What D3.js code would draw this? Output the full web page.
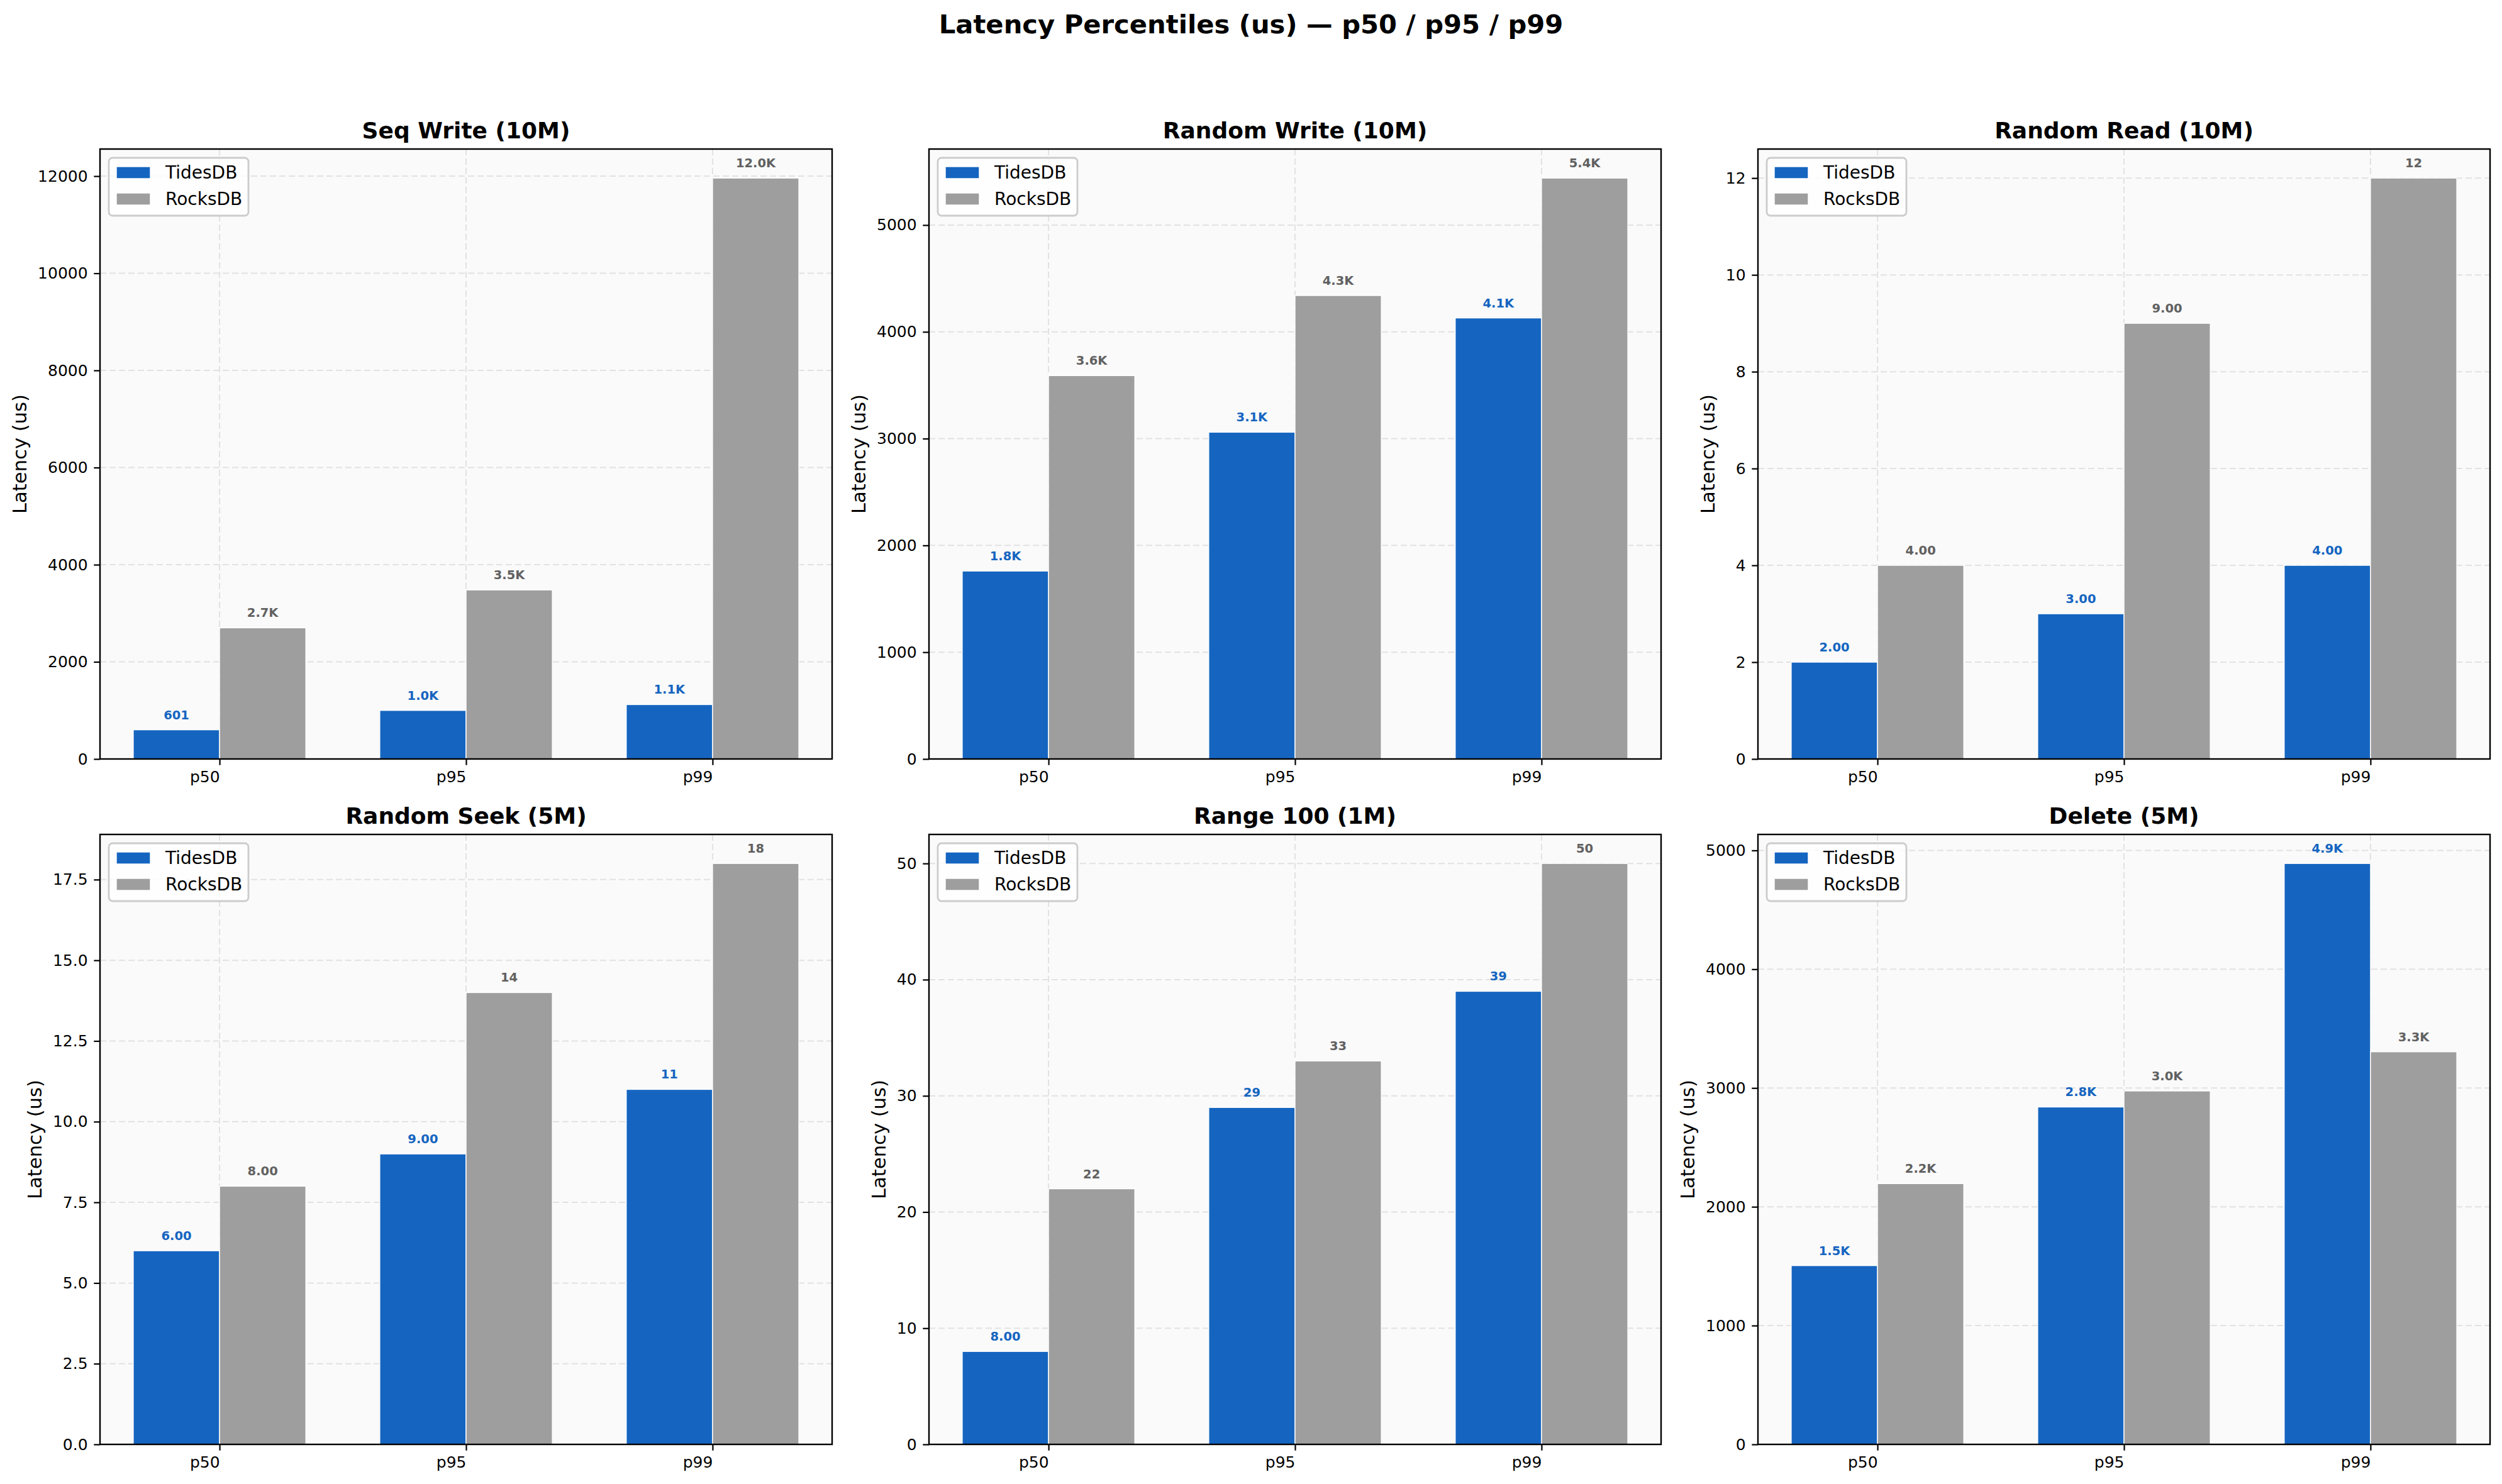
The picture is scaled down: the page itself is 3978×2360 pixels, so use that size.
<!DOCTYPE html>
<html>
<head>
<meta charset="utf-8">
<title>Latency Percentiles</title>
<script src="https://cdn.jsdelivr.net/npm/d3@7"></script>
<style>
  html, body { margin: 0; padding: 0; background: #ffffff; }
  svg text { font-family: "DejaVu Sans", sans-serif; }
</style>
</head>
<body>
<div id="chart"></div>
<script>
// ---- data ----
var figTitle = 'Latency Percentiles (us) \u2014 p50 / p95 / p99';
var panelTitles = ['Seq Write (10M)', 'Random Write (10M)', 'Random Read (10M)',
                   'Random Seek (5M)', 'Range 100 (1M)', 'Delete (5M)'];
var percentiles = ['p50', 'p95', 'p99'];
var seriesNames = ['TidesDB', 'RocksDB'];
var tidesValues = [
  [601, 1000, 1120],
  [1760, 3060, 4130],
  [2, 3, 4],
  [6, 9, 11],
  [8, 29, 39],
  [1505, 2840, 4890]
];
var rocksValues = [
  [2700, 3480, 11960],
  [3590, 4340, 5440],
  [4, 9, 12],
  [8, 14, 18],
  [22, 33, 50],
  [2195, 2975, 3305]
];
var yTicks = [
  [0, 2000, 4000, 6000, 8000, 10000, 12000],
  [0, 1000, 2000, 3000, 4000, 5000],
  [0, 2, 4, 6, 8, 10, 12],
  [0, 2.5, 5, 7.5, 10, 12.5, 15, 17.5],
  [0, 10, 20, 30, 40, 50],
  [0, 1000, 2000, 3000, 4000, 5000]
];
var yTickFormats = ['d', 'd', 'd', '.1f', 'd', 'd'];

// ---- layout / style ----
var W = 3978, H = 2360;
var colLeft = [159, 1477, 2795], rowTop = [237, 1327];
var pw = 1164, ph = 970;
var barW = 0.35;
var colors = ['#1565C0', '#9E9E9E'];
var labelColors = ['#1565C0', '#616161'];

function valueLabel(v) {
  if (v >= 1000) return (v / 1000).toFixed(1) + 'K';
  if (v >= 10) return String(Math.round(v));
  return v.toFixed(2);
}

var svg = d3.select('#chart').append('svg')
  .attr('width', W).attr('height', H);

svg.append('rect').attr('width', W).attr('height', H).attr('fill', '#ffffff');

svg.append('text')
  .attr('x', W / 2).attr('y', 53)
  .attr('text-anchor', 'middle')
  .style('font-size', '41.7px').style('font-weight', 'bold')
  .text(figTitle);

panelTitles.forEach(function (title, i) {
  var left = colLeft[i % 3], top = rowTop[Math.floor(i / 3)];
  var g = svg.append('g').attr('transform', 'translate(' + left + ',' + top + ')');
  var series = [tidesValues[i], rocksValues[i]];
  var ymax = d3.max(series, function (s) { return d3.max(s); }) * 1.05;

  var x = d3.scaleLinear().domain([-0.485, 2.485]).range([0, pw]);
  var y = d3.scaleLinear().domain([0, ymax]).range([ph, 0]);

  g.append('rect').attr('width', pw).attr('height', ph).attr('fill', '#fafafa');

  // grid
  g.selectAll('.hgrid').data(yTicks[i]).enter().append('line')
    .attr('x1', 0).attr('x2', pw)
    .attr('y1', function (d) { return y(d); }).attr('y2', function (d) { return y(d); })
    .attr('stroke', '#e2e2e2').attr('stroke-width', 2).attr('stroke-dasharray', '10,5');
  g.selectAll('.vgrid').data(d3.range(3)).enter().append('line')
    .attr('y1', 0).attr('y2', ph)
    .attr('x1', function (d) { return x(d); }).attr('x2', function (d) { return x(d); })
    .attr('stroke', '#e2e2e2').attr('stroke-width', 2).attr('stroke-dasharray', '10,5');

  // bars
  series.forEach(function (vals, s) {
    g.selectAll('.bar' + s).data(vals).enter().append('rect')
      .attr('x', function (d, k) { return x(k + (s === 0 ? -barW : 0)); })
      .attr('width', x(barW) - x(0))
      .attr('y', function (d) { return y(d); })
      .attr('height', function (d) { return ph - y(d); })
      .attr('fill', colors[s])
      .attr('stroke', '#ffffff').attr('stroke-width', 1.4);
    g.selectAll('.lab' + s).data(vals).enter().append('text')
      .attr('x', function (d, k) { return x(k + (s === 0 ? -barW / 2 : barW / 2)); })
      .attr('y', function (d) { return y(d) - 17; })
      .attr('text-anchor', 'middle')
      .style('font-size', '19.5px').style('font-weight', 'bold')
      .attr('fill', labelColors[s])
      .text(valueLabel);
  });

  // axes
  var yAxis = d3.axisLeft(y).tickValues(yTicks[i]).tickFormat(d3.format(yTickFormats[i]))
    .tickSize(9.7).tickPadding(9.7);
  var ya = g.append('g').call(yAxis);
  var xAxis = d3.axisBottom(x).tickValues([0, 1, 2])
    .tickFormat(function (d) { return percentiles[d]; })
    .tickSize(9.7).tickPadding(9.7);
  var xa = g.append('g').attr('transform', 'translate(0,' + ph + ')').call(xAxis);
  [ya, xa].forEach(function (a) {
    a.select('.domain').remove();
    a.selectAll('line').attr('stroke', '#000').attr('stroke-width', 2.2);
    a.selectAll('text').attr('fill', '#000')
      .style('font-size', '25px').style('font-family', '"DejaVu Sans", sans-serif');
  });
  xa.selectAll('text').attr('text-anchor', 'end');

  // frame
  g.append('rect').attr('width', pw).attr('height', ph)
    .attr('fill', 'none').attr('stroke', '#000').attr('stroke-width', 2.4);

  // y label, placed left of the widest tick label
  var tickLeft = d3.min(ya.selectAll('text').nodes(), function (n) {
    return n.getBBox().x;
  });
  g.append('text')
    .attr('transform', 'translate(' + (tickLeft - 18) + ',' + (ph / 2) + ') rotate(-90)')
    .attr('text-anchor', 'middle')
    .style('font-size', '30.6px')
    .text('Latency (us)');

  // title
  g.append('text')
    .attr('x', pw / 2).attr('y', -17)
    .attr('text-anchor', 'middle')
    .style('font-size', '36px').style('font-weight', 'bold')
    .text(title);

  // legend
  var lg = g.append('g').attr('transform', 'translate(14,14)');
  lg.append('rect').attr('width', 222).attr('height', 92).attr('rx', 6)
    .attr('fill', '#ffffff').attr('fill-opacity', 0.8)
    .attr('stroke', '#cccccc').attr('stroke-width', 2.8);
  seriesNames.forEach(function (name, s) {
    lg.append('rect').attr('x', 12).attr('y', 14 + s * 42)
      .attr('width', 54).attr('height', 19)
      .attr('fill', colors[s]).attr('stroke', '#ffffff').attr('stroke-width', 1.4);
    lg.append('text').attr('x', 90).attr('y', 33 + s * 42)
      .style('font-size', '28px').text(name);
  });
});
</script>
</body>
</html>
